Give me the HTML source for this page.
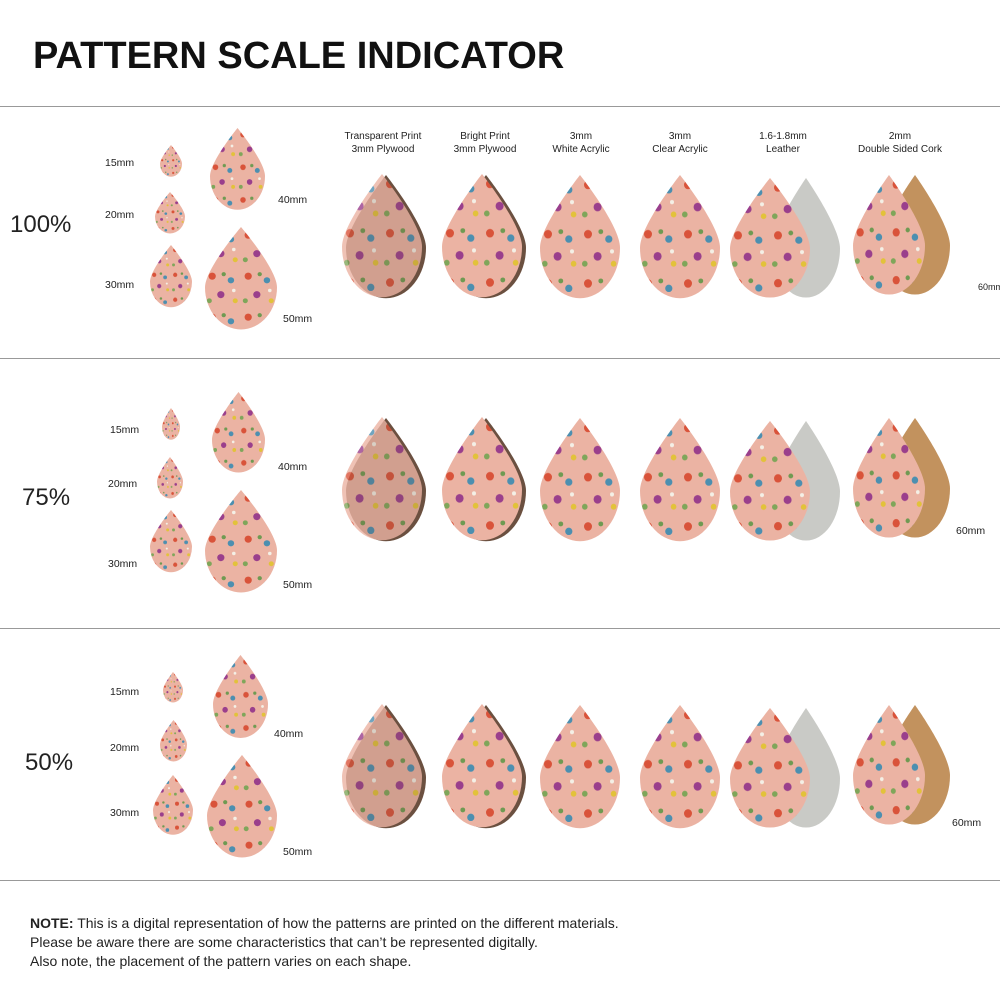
<!DOCTYPE html>
<html><head><meta charset="utf-8"><style>
body{margin:0;background:#fff;}
svg{display:block}
text{font-family:"Liberation Sans",sans-serif;}
</style></head><body>
<svg width="1000" height="1000" viewBox="0 0 1000 1000" xmlns="http://www.w3.org/2000/svg">
<defs>
<pattern id="fl" x="0" y="0" width="0.5" height="0.4" patternUnits="objectBoundingBox" patternContentUnits="objectBoundingBox">
<rect width="0.5" height="0.4" fill="#ebb3a3"/>
<ellipse cx="0.1" cy="0.08" rx="0.05" ry="0.035" fill="#d9533a"/>
<ellipse cx="0.36" cy="0.12" rx="0.045" ry="0.03" fill="#4c8fb0"/>
<ellipse cx="0.22" cy="0.26" rx="0.05" ry="0.035" fill="#9a3f8c"/>
<ellipse cx="0.42" cy="0.32" rx="0.035" ry="0.024" fill="#e2c23a"/>
<ellipse cx="0.26" cy="0.06" rx="0.03" ry="0.02" fill="#6f9a52"/>
<ellipse cx="0.06" cy="0.32" rx="0.035" ry="0.024" fill="#7fa65a"/>
<ellipse cx="0.4" cy="0.22" rx="0.025" ry="0.017" fill="#f4f0e6"/>
</pattern>
<path id="d" d="M0.5,0 C0.5,0 0,0.5 0,0.72 A0.5,0.5 0 0 0 1,0.72 C1,0.5 0.5,0 0.5,0 Z"/>
</defs>
<text x="33" y="68" font-size="38" font-weight="bold" fill="#111">PATTERN SCALE INDICATOR</text>
<g stroke="#999" stroke-width="1">
<line x1="0" y1="106.5" x2="1000" y2="106.5"/>
<line x1="0" y1="358.5" x2="1000" y2="358.5"/>
<line x1="0" y1="628.5" x2="1000" y2="628.5"/>
<line x1="0" y1="880.5" x2="1000" y2="880.5"/>
</g>
<g font-size="10" fill="#222" text-anchor="middle">
<text x="383" y="139">Transparent Print</text><text x="383" y="152">3mm Plywood</text>
<text x="485" y="139">Bright Print</text><text x="485" y="152">3mm Plywood</text>
<text x="581" y="139">3mm</text><text x="581" y="152">White Acrylic</text>
<text x="680" y="139">3mm</text><text x="680" y="152">Clear Acrylic</text>
<text x="783" y="139">1.6-1.8mm</text><text x="783" y="152">Leather</text>
<text x="900" y="139">2mm</text><text x="900" y="152">Double Sided Cork</text>
</g>
<g font-size="24" fill="#222">
<text x="10" y="232">100%</text><text x="22" y="505">75%</text><text x="25" y="770">50%</text>
</g>
<g font-size="10.5" fill="#222">
<text x="105" y="166">15mm</text><text x="105" y="218">20mm</text><text x="105" y="288">30mm</text>
<text x="278" y="203">40mm</text><text x="283" y="322">50mm</text><text x="978" y="290" font-size="9">60mm</text>
<text x="110" y="433">15mm</text><text x="108" y="487">20mm</text><text x="108" y="567">30mm</text>
<text x="278" y="470">40mm</text><text x="283" y="588">50mm</text><text x="956" y="534">60mm</text>
<text x="110" y="695">15mm</text><text x="110" y="751">20mm</text><text x="110" y="816">30mm</text>
<text x="274" y="737">40mm</text><text x="283" y="855">50mm</text><text x="952" y="826">60mm</text>
</g>
<g fill="url(#fl)">
<use href="#d" transform="translate(160,145) scale(22,26)"/>
<use href="#d" transform="translate(155,192) scale(30,34)"/>
<use href="#d" transform="translate(150,245) scale(42,51)"/>
<use href="#d" transform="translate(210,128) scale(55,67)"/>
<use href="#d" transform="translate(205,227) scale(72,84)"/>
<use href="#d" transform="translate(162,408) scale(18,26)"/>
<use href="#d" transform="translate(157,457) scale(26,34)"/>
<use href="#d" transform="translate(150,510) scale(42,51)"/>
<use href="#d" transform="translate(212,392) scale(53,66)"/>
<use href="#d" transform="translate(205,490) scale(72,84)"/>
<use href="#d" transform="translate(163,672) scale(20,25)"/>
<use href="#d" transform="translate(160,720) scale(27,34)"/>
<use href="#d" transform="translate(153,775) scale(40,49)"/>
<use href="#d" transform="translate(213,655) scale(55,68)"/>
<use href="#d" transform="translate(207,755) scale(70,84)"/>
</g>
<g id="row">
<use href="#d" transform="translate(346,175) scale(80,101)" fill="#6b5040"/>
<use href="#d" transform="translate(342,174) scale(80,101)" fill="url(#fl)" opacity="0.8"/>
<use href="#d" transform="translate(446,175) scale(80,101)" fill="#6b5040"/>
<use href="#d" transform="translate(442,174) scale(80,101)" fill="url(#fl)"/>
<use href="#d" transform="translate(540,175) scale(80,101)" fill="url(#fl)"/>
<use href="#d" transform="translate(640,175) scale(80,101)" fill="url(#fl)"/>
<use href="#d" transform="translate(772,178) scale(68,98)" fill="#c9cac6"/>
<use href="#d" transform="translate(730,178) scale(80,98)" fill="url(#fl)"/>
<use href="#d" transform="translate(880,175) scale(70,98)" fill="#c2925e"/>
<use href="#d" transform="translate(853,175) scale(72,98)" fill="url(#fl)"/>
</g>
<use href="#row" transform="translate(0,243)"/>
<use href="#row" transform="translate(0,530)"/>
<g font-size="14" fill="#222">
<text x="30" y="928"><tspan font-weight="bold">NOTE:</tspan> This is a digital representation of how the patterns are printed on the different materials.</text>
<text x="30" y="947">Please be aware there are some characteristics that can’t be represented digitally.</text>
<text x="30" y="966">Also note, the placement of the pattern varies on each shape.</text>
</g>
</svg>
</body></html>
